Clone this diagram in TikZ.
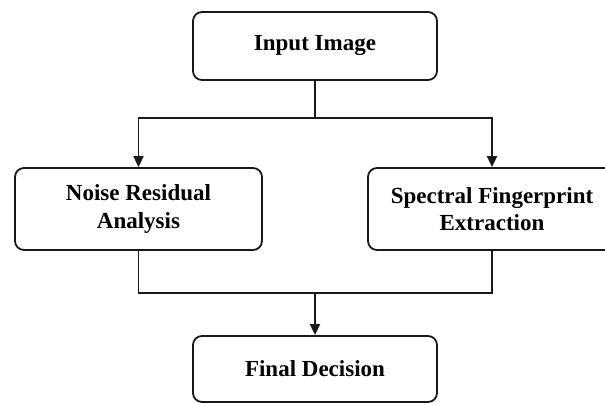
\documentclass[tikz,border=0pt]{standalone}
\usepackage{fontspec}
\setmainfont{Liberation Serif}
\usetikzlibrary{arrows.meta}
\begin{document}
\begin{tikzpicture}[x=1pt,y=-1pt,
  box/.style={draw=black!90, line width=1.8pt, rounded corners=9pt, align=center,
    font=\fontsize{23}{27.5}\selectfont\bfseries, inner sep=0pt},
  conn/.style={draw=black!90, line width=1.8pt},
  arr/.style={conn, -{Triangle[length=11pt,width=10pt]}}]
\useasboundingbox (0,0) rectangle (605,403);
\clip (0,0) rectangle (605,403);
\fill[white] (0,0) rectangle (605,403);
\node[box, minimum width=244pt, minimum height=68pt] (in) at (315,46) {Input Image};
\node[box, minimum width=247pt, minimum height=82pt] (noise) at (138.5,209) {Noise Residual\\Analysis};
\node[box, minimum width=248pt, minimum height=82pt] (spec) at (492,209) {Spectral Fingerprint\\Extraction};
\node[box, minimum width=244pt, minimum height=66pt] (final) at (315,369) {Final Decision};
\coordinate (split) at (315,118);
\coordinate (join) at (315,293);
\draw[conn] (in.south) -- (split);
\draw[arr] (split) -| (noise.north);
\draw[arr] (split) -| (spec.north);
\draw[conn] (noise.south) |- (join);
\draw[conn] (spec.south) |- (join);
\draw[arr] (join) -- (final.north);
\end{tikzpicture}
\end{document}
